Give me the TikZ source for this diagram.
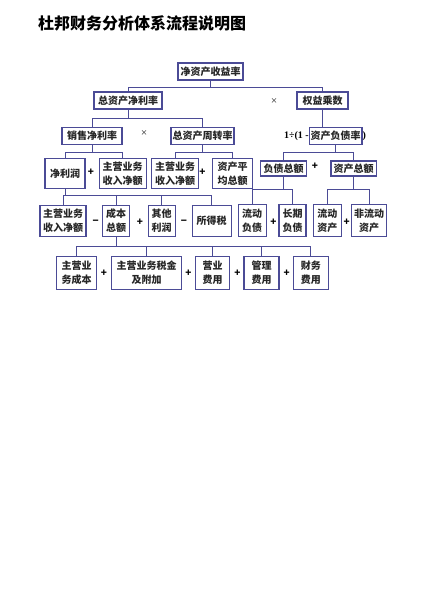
\documentclass[tikz,border=0pt]{standalone}
\usepackage{fontspec}
\newfontfamily\cjk{Noto Sans CJK SC}
\newfontfamily\tms{Liberation Serif}
\definecolor{linec}{RGB}{75,75,150}
\tikzset{
  bx/.style={draw=linec, line width=1.1pt, inner sep=0pt, align=center, fill=white,
    font=\cjk\bfseries\fontsize{10}{14}\selectfont, text=black!85},
  ln/.style={draw=linec, line width=1pt},
  op/.style={inner sep=0pt, font=\cjk\bfseries\fontsize{10}{12}\selectfont},
  tm/.style={inner sep=0pt, font=\cjk\fontsize{7}{8}\selectfont}
}
\begin{document}
\begin{tikzpicture}[x=1pt,y=-1pt]
\useasboundingbox[fill=white] (0,0) rectangle (425,600);
\node[anchor=west, inner sep=0pt, font=\cjk\bfseries\fontsize{16}{18}\selectfont] (title) at (38,23) {杜邦财务分析体系流程说明图};

% row 1
\node[bx, minimum width=65pt, minimum height=17pt] (roe) at (210.5,71.5) {净资产收益率};
% row 2
\node[bx, minimum width=68pt, minimum height=17pt] (zzjl) at (128,100.5) {总资产净利率};
\node[tm] (x1) at (274,101) {×};
\node[bx, minimum width=51pt, minimum height=17pt] (qysc) at (322.5,100.5) {权益乘数};
% row 3
\node[bx, minimum width=60pt, minimum height=16.5pt] (xsjl) at (92,136) {销售净利率};
\node[tm] (x2) at (144,133) {×};
\node[bx, minimum width=63pt, minimum height=16.5pt] (zzzz) at (202.5,136) {总资产周转率};
\node[anchor=east, inner sep=0pt, font=\tms\bfseries\fontsize{10}{12}\selectfont] (pre) at (309,136.5) {1÷(1 -};
\node[bx, minimum width=52.5pt, minimum height=16.5pt] (fzl) at (335.7,136) {资产负债率};
\node[anchor=west, inner sep=0pt, font=\tms\bfseries\fontsize{10}{12}\selectfont] (post) at (362.5,136.5) {)};
% row 4
\node[bx, minimum width=40pt, minimum height=30pt] (jlr) at (65,173.3) {净利润};
\node[op] (p1) at (91,172) {+};
\node[bx, minimum width=46.7pt, minimum height=30pt] (srA) at (122.7,173.3) {主营业务\\收入净额};
\node[bx, minimum width=46.7pt, minimum height=30pt] (srB) at (175,173.3) {主营业务\\收入净额};
\node[op] (p2) at (202.5,172) {+};
\node[bx, minimum width=40pt, minimum height=30pt] (zcpj) at (232.7,173.3) {资产平\\均总额};
\node[bx, minimum width=46pt, minimum height=15pt] (fzze) at (283.5,168.5) {负债总额};
\node[op] (p3) at (315,166) {+};
\node[bx, minimum width=45.5pt, minimum height=15pt] (zcze) at (353.7,168.5) {资产总额};
% row 5
\node[bx, minimum width=46pt, minimum height=31.5pt] (srC) at (63,220.8) {主营业务\\收入净额};
\node[op] (m1) at (95.7,222) {−};
\node[bx, minimum width=26.6pt, minimum height=31.5pt] (cbze) at (116,220.8) {成本\\总额};
\node[op] (p4) at (140,222) {+};
\node[bx, minimum width=26.7pt, minimum height=31.5pt] (qtlr) at (161.7,220.8) {其他\\利润};
\node[op] (m2) at (184,222) {−};
\node[bx, minimum width=38.7pt, minimum height=31.5pt] (sds) at (211.7,220.8) {所得税};
\node[bx, minimum width=27.7pt, minimum height=31.5pt] (ldfz) at (252.2,220.3) {流动\\负债};
\node[op] (p5) at (273.3,222) {+};
\node[bx, minimum width=27pt, minimum height=31.5pt] (cqfz) at (292.5,220.3) {长期\\负债};
\node[bx, minimum width=28.2pt, minimum height=31.5pt] (ldzc) at (327.4,220.3) {流动\\资产};
\node[op] (p6) at (346.7,222) {+};
\node[bx, minimum width=35.2pt, minimum height=31.5pt] (fldzc) at (369.1,220.3) {非流动\\资产};
% row 6
\node[bx, minimum width=40pt, minimum height=32.5pt] (yycb) at (76.5,272.8) {主营业\\务成本};
\node[op] (p7) at (104,273) {+};
\node[bx, minimum width=70.2pt, minimum height=32.5pt] (sjfj) at (146.6,272.8) {主营业务税金\\及附加};
\node[op] (p8) at (188.5,273) {+};
\node[bx, minimum width=34pt, minimum height=32.5pt] (yyfy) at (212.5,272.8) {营业\\费用};
\node[op] (p9) at (237.3,273) {+};
\node[bx, minimum width=35pt, minimum height=32.5pt] (glfy) at (261.5,272.8) {管理\\费用};
\node[op] (p10) at (286.7,273) {+};
\node[bx, minimum width=35pt, minimum height=32.5pt] (cwfy) at (310.8,272.8) {财务\\费用};

% connectors
\draw[ln] (roe.south) -- ++(0,6.5) coordinate (b1);
\draw[ln] (zzjl.north) |- (b1) -| (qysc.north);
\draw[ln] (zzjl.south) -- ++(0,8.5) coordinate (b2);
\draw[ln] (xsjl.north) |- (b2) -| (zzzz.north);
\draw[ln] (qysc.south) -- (qysc.south |- fzl.north);
\draw[ln] (xsjl.south) -- ++(0,7.3) coordinate (b3);
\draw[ln] (jlr.north) |- (b3) -| (srA.north);
\draw[ln] (zzzz.south) -- ++(0,7.3) coordinate (b4);
\draw[ln] (srB.north) |- (b4) -| (zcpj.north);
\draw[ln] (fzl.south) -- ++(0,7.8) coordinate (b5);
\draw[ln] (fzze.north) |- (b5) -| (zcze.north);
\draw[ln] (jlr.south) -- ++(0,6.7) coordinate (b6);
\draw[ln] (srC.north) |- (b6) -| (sds.north);
\draw[ln] (cbze.north) -- (cbze.north |- b6);
\draw[ln] (qtlr.north) -- (qtlr.north |- b6);
\draw[ln] (fzze.south) -- ++(0,12.5) coordinate (b7);
\draw[ln] (ldfz.north) |- (b7) -| (cqfz.north);
\draw[ln] (zcze.south) -- ++(0,12.5) coordinate (b8);
\draw[ln] (ldzc.north) |- (b8) -| (fldzc.north);
\draw[ln] (cbze.south) -- ++(0,9.7) coordinate (b9);
\draw[ln] (yycb.north) |- (b9) -| (cwfy.north);
\draw[ln] (sjfj.north) -- (sjfj.north |- b9);
\draw[ln] (yyfy.north) -- (yyfy.north |- b9);
\draw[ln] (glfy.north) -- (glfy.north |- b9);
\end{tikzpicture}
\end{document}
